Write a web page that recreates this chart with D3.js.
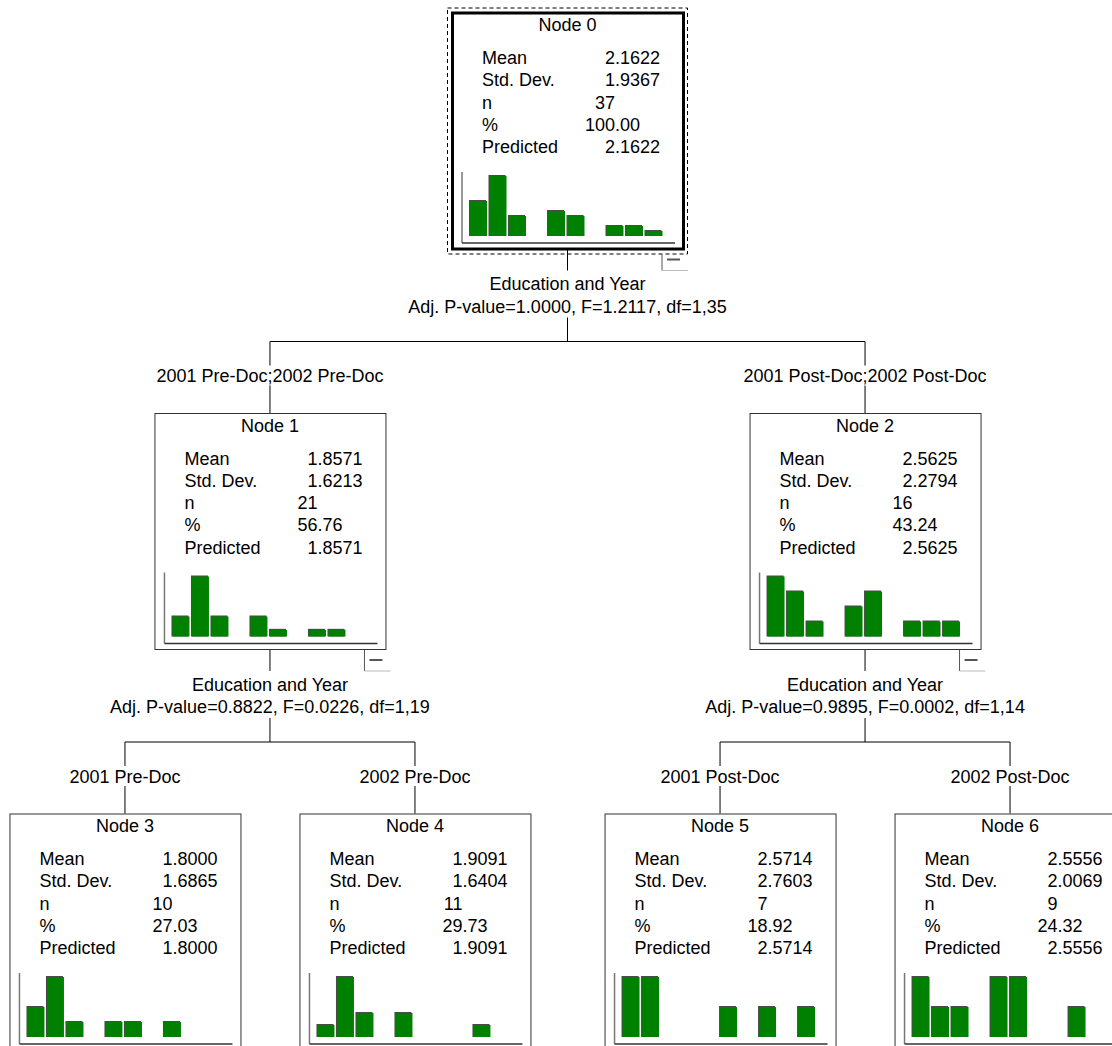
<!DOCTYPE html>
<html>
<head>
<meta charset="utf-8">
<script src="https://cdn.jsdelivr.net/npm/d3@7"></script>
<style>
  html, body { margin: 0; padding: 0; background: #fff; }
  svg { display: block; }
  text { font-family: "Liberation Sans", Arial, sans-serif; font-size: 18px; fill: #000; }
</style>
</head>
<body>
<svg id="chart" width="1112" height="1046"></svg>
<script>
// ---------------- data ----------------
const nodeNames   = ["Node 0", "Node 1", "Node 2", "Node 3", "Node 4", "Node 5", "Node 6"];
const parentIndex = [null, 0, 0, 1, 1, 2, 2];
const means       = ["2.1622", "1.8571", "2.5625", "1.8000", "1.9091", "2.5714", "2.5556"];
const stdDevs     = ["1.9367", "1.6213", "2.2794", "1.6865", "1.6404", "2.7603", "2.0069"];
const counts      = ["37", "21", "16", "10", "11", "7", "9"];
const percents    = ["100.00", "56.76", "43.24", "27.03", "29.73", "18.92", "24.32"];
const predicted   = ["2.1622", "1.8571", "2.5625", "1.8000", "1.9091", "2.5714", "2.5556"];
const rowLabels   = ["Mean", "Std. Dev.", "n", "%", "Predicted"];
const branchLabels = [null, "2001 Pre-Doc;2002 Pre-Doc", "2001 Post-Doc;2002 Post-Doc",
                      "2001 Pre-Doc", "2002 Pre-Doc", "2001 Post-Doc", "2002 Post-Doc"];
const splitVariables = ["Education and Year", "Education and Year", "Education and Year", null, null, null, null];
const splitStats = ["Adj. P-value=1.0000, F=1.2117, df=1,35",
                    "Adj. P-value=0.8822, F=0.0226, df=1,19",
                    "Adj. P-value=0.9895, F=0.0002, df=1,14", null, null, null, null];
const histBins = [0, 1, 2, 3, 4, 5, 6, 7, 8, 9];
const histCounts = [
  [7, 12, 4, 0, 5, 4, 0, 2, 2, 1],
  [3, 9, 3, 0, 3, 1, 0, 1, 1, 0],
  [4, 3, 1, 0, 2, 3, 0, 1, 1, 1],
  [2, 4, 1, 0, 1, 1, 0, 1, 0, 0],
  [1, 5, 2, 0, 2, 0, 0, 0, 1, 0],
  [2, 2, 0, 0, 0, 1, 0, 1, 0, 1],
  [2, 1, 1, 0, 2, 2, 0, 0, 1, 0]
];

// ---------------- layout ----------------
const svg = d3.select("#chart");
const boxW = 231, boxH = 236;
const levelGap = 400.5, topY = 12.5, rootX = 567.5;

const table = nodeNames.map((name, i) => ({
  id: String(i), parentId: parentIndex[i] === null ? null : String(parentIndex[i]), i
}));
const root = d3.stratify().id(d => d.id).parentId(d => d.parentId)(table);
d3.tree()
  .nodeSize([290, levelGap])
  .separation((a, b) => a.parent === b.parent ? 1 : 1.052)(root);

const nodes = root.descendants();
nodes.forEach(n => { n.cx = rootX + n.x; n.top = topY + n.y; n.left = n.cx - boxW / 2; });

// ---------------- connectors ----------------
const lineG = svg.append("g").attr("stroke", "#000").attr("stroke-width", 1).attr("fill", "none");
root.descendants().filter(n => n.children).forEach(n => {
  const bottom = n.top + boxH;
  const hy = bottom + 93;
  lineG.append("line").attr("x1", n.cx).attr("x2", n.cx).attr("y1", bottom).attr("y2", bottom + 22);
  lineG.append("line").attr("x1", n.cx).attr("x2", n.cx).attr("y1", bottom + 69).attr("y2", hy);
  const xs = n.children.map(c => c.cx);
  lineG.append("line").attr("x1", d3.min(xs)).attr("x2", d3.max(xs)).attr("y1", hy).attr("y2", hy);
  n.children.forEach(c => {
    lineG.append("line").attr("x1", c.cx).attr("x2", c.cx).attr("y1", hy).attr("y2", hy + 24);
    lineG.append("line").attr("x1", c.cx).attr("x2", c.cx).attr("y1", hy + 44).attr("y2", c.top);
  });
  // split text
  svg.append("text").attr("x", n.cx).attr("y", bottom + 41.5).attr("text-anchor", "middle")
    .text(splitVariables[n.data.i]);
  svg.append("text").attr("x", n.cx).attr("y", bottom + 64).attr("text-anchor", "middle")
    .text(splitStats[n.data.i]);
  n.children.forEach(c => {
    svg.append("text").attr("x", c.cx).attr("y", hy + 40.5).attr("text-anchor", "middle")
      .text(branchLabels[c.data.i]);
  });
  // collapse tab with minus
  const right = n.left + boxW;
  const tabTop = n.depth === 0 ? bottom + 6 : bottom;
  svg.append("line").attr("x1", right - 21).attr("x2", right - 21)
    .attr("y1", tabTop).attr("y2", bottom + 22).attr("stroke", "#555").attr("stroke-width", 1);
  svg.append("line").attr("x1", right - 21).attr("x2", right + 5)
    .attr("y1", bottom + 22).attr("y2", bottom + 22).attr("stroke", "#bbb").attr("stroke-width", 1);
  svg.append("line").attr("x1", right - 16).attr("x2", right - 3)
    .attr("y1", bottom + 11).attr("y2", bottom + 11).attr("stroke", "#555").attr("stroke-width", 2);
});

// ---------------- node boxes ----------------
nodes.forEach(n => {
  const i = n.data.i;
  const g = svg.append("g").attr("transform", `translate(${n.left},${n.top})`);
  if (n.depth === 0) {
    g.append("rect").attr("x", -4.5).attr("y", -4.5).attr("width", boxW + 9).attr("height", boxH + 10)
      .attr("fill", "none").attr("stroke", "#000").attr("stroke-width", 1).attr("stroke-dasharray", "4,3");
    g.append("rect").attr("x", 0.5).attr("y", 0.5).attr("width", boxW).attr("height", boxH)
      .attr("fill", "#fff").attr("stroke", "#000").attr("stroke-width", 3);
  } else {
    g.append("rect").attr("x", 0.5).attr("y", 0.5).attr("width", boxW).attr("height", boxH)
      .attr("fill", "#fff").attr("stroke", "#333").attr("stroke-width", 1);
  }
  g.append("text").attr("x", boxW / 2).attr("y", 18.5).attr("text-anchor", "middle").text(nodeNames[i]);

  const values = [means[i], stdDevs[i], counts[i], percents[i], predicted[i]];
  const decX = 163;
  rowLabels.forEach((lab, r) => {
    const y = 51.5 + r * 22.3;
    g.append("text").attr("x", 30).attr("y", y).text(lab);
    const v = values[r];
    const dot = v.indexOf(".");
    const intPart = dot >= 0 ? v.slice(0, dot) : v;
    const fracPart = dot >= 0 ? v.slice(dot) : "";
    g.append("text").attr("x", decX).attr("y", y).attr("text-anchor", "end").text(intPart);
    if (fracPart) g.append("text").attr("x", decX).attr("y", y).text(fracPart);
  });

  // histogram
  const xs = d3.scaleLinear().domain([0, 1]).range([18, 37.5]);
  const ys = d3.scaleLinear().domain([0, d3.max(histCounts[i])]).range([223.5, 163.5]);
  const hg = g.append("g");
  const data = histBins.map((b, k) => ({ b, c: histCounts[i][k] })).filter(d => d.c > 0);
  hg.selectAll("rect.sh").data(data).enter().append("rect")
    .attr("x", d => xs(d.b) - 1).attr("y", d => ys(d.c) - 1)
    .attr("width", 17).attr("height", d => ys(0) - ys(d.c) + 1).attr("fill", "#4a4a4a");
  hg.selectAll("rect.bar").data(data).enter().append("rect")
    .attr("x", d => xs(d.b)).attr("y", d => ys(d.c))
    .attr("width", 17).attr("height", d => ys(0) - ys(d.c)).attr("fill", "#008000");
  hg.append("line").attr("x1", 10).attr("x2", 10).attr("y1", 159.5).attr("y2", 230.5)
    .attr("stroke", "#777").attr("stroke-width", 1.5);
  hg.append("line").attr("x1", 10).attr("x2", 223).attr("y1", 230.5).attr("y2", 230.5)
    .attr("stroke", "#333").attr("stroke-width", 1.5);
});
</script>
</body>
</html>
